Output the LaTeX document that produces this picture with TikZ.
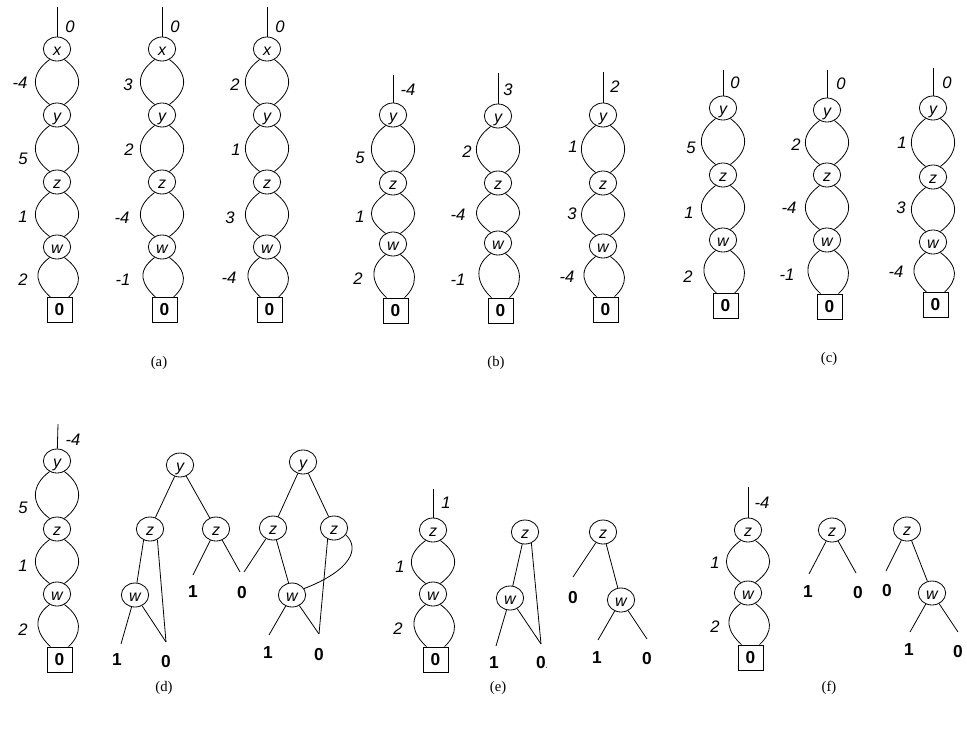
\documentclass[tikz,border=0pt]{standalone}
\usepackage{fontspec}
\setmainfont{Liberation Sans}
\newfontfamily\capfont{Liberation Serif}
\usetikzlibrary{shapes.geometric}
\tikzset{
  en/.style={ellipse, draw, line width=0.6pt, minimum width=20.5pt, minimum height=18pt, inner sep=0pt, text height=1.9ex, text depth=0pt, font=\fontsize{12}{14}\selectfont\itshape},
  tb/.style={draw, line width=0.6pt, minimum size=18.75pt, inner sep=0pt, font=\fontsize{13}{15}\selectfont\bfseries},
  lab/.style={font=\fontsize{12.5}{14}\selectfont\itshape, inner sep=0pt},
  term/.style={font=\fontsize{13}{15}\selectfont\bfseries, inner sep=0pt},
  captxt/.style={font=\capfont\fontsize{11}{13}\selectfont, inner sep=0pt},
  ln/.style={line width=0.6pt}
}
\newcommand\lobes[2]{%
  \draw[ln] (#1.235) .. controls +(-19,14) and +(-19,-14) .. (#2.125);
  \draw[ln] (#1.305) .. controls +(19,14) and +(19,-14) .. (#2.55);}
\newcommand\lobesbox[2]{%
  \draw[ln] (#1.235) .. controls +(-19,14) and +(-13,-12) .. (#2.125);
  \draw[ln] (#1.305) .. controls +(19,14) and +(13,-12) .. (#2.55);}
\newcommand\lab[3]{\node[lab] (#1) at (#2) {#3};}
\newcommand\trm[3]{\node[term] (#1) at (#2) {#3};}
\newcommand\bx[2]{\node[tb] (#1) at (#2) {\raisebox{-3pt}{0}};}
\begin{document}
\begin{tikzpicture}[x=0.75pt,y=-0.75pt]
\useasboundingbox (0,0) rectangle (967,729);

% ===================== (a) =====================
\coordinate (a1t) at (57,7);
\node[en] (a1x) at (57,49) {x};
\node[en] (a1y) at (57,115) {y};
\node[en] (a1z) at (57,182) {z};
\node[en] (a1w) at (57,247) {w};
\bx{a1b}{59.5,310}
\draw[ln] (a1t) -- (a1x);
\lobes{a1x}{a1y}\lobes{a1y}{a1z}\lobes{a1z}{a1w}\lobesbox{a1w}{a1b}
\lab{a1l0}{70,27}{0}\lab{a1l1}{20,83}{-4}\lab{a1l2}{23,159}{5}\lab{a1l3}{23,217}{1}\lab{a1l4}{23,280}{2}

\coordinate (a2t) at (162,7);
\node[en] (a2x) at (162,49) {x};
\node[en] (a2y) at (162,115) {y};
\node[en] (a2z) at (162,182) {z};
\node[en] (a2w) at (162,247) {w};
\bx{a2b}{164.5,310}
\draw[ln] (a2t) -- (a2x);
\lobes{a2x}{a2y}\lobes{a2y}{a2z}\lobes{a2z}{a2w}\lobesbox{a2w}{a2b}
\lab{a2l0}{175,27}{0}\lab{a2l1}{128,85}{3}\lab{a2l2}{129,150}{2}\lab{a2l3}{122,218}{-4}\lab{a2l4}{123,280}{-1}

\coordinate (a3t) at (267,7);
\node[en] (a3x) at (267,49) {x};
\node[en] (a3y) at (267,115) {y};
\node[en] (a3z) at (267,182) {z};
\node[en] (a3w) at (267,247) {w};
\bx{a3b}{269.5,310}
\draw[ln] (a3t) -- (a3x);
\lobes{a3x}{a3y}\lobes{a3y}{a3z}\lobes{a3z}{a3w}\lobesbox{a3w}{a3b}
\lab{a3l0}{280,27}{0}\lab{a3l1}{235,85}{2}\lab{a3l2}{236,150}{1}\lab{a3l3}{230,218}{3}\lab{a3l4}{229,278}{-4}
\node[captxt] (capa) at (159,363) {(a)};

% ===================== (b) =====================
\coordinate (b1t) at (393,75);
\node[en] (b1y) at (393,115) {y};
\node[en] (b1z) at (393,183) {z};
\node[en] (b1w) at (393,244) {w};
\bx{b1b}{395.5,310.5}
\draw[ln] (b1t) -- (b1y);
\lobes{b1y}{b1z}\lobes{b1z}{b1w}\lobesbox{b1w}{b1b}
\lab{b1l0}{408,90}{-4}\lab{b1l1}{360,158}{5}\lab{b1l2}{360,217}{1}\lab{b1l3}{358,279}{2}

\coordinate (b2t) at (498,73);
\node[en] (b2y) at (498,116) {y};
\node[en] (b2z) at (498,183) {z};
\node[en] (b2w) at (498,243) {w};
\bx{b2b}{500.5,310.5}
\draw[ln] (b2t) -- (b2y);
\lobes{b2y}{b2z}\lobes{b2z}{b2w}\lobesbox{b2w}{b2b}
\lab{b2l0}{508,90}{3}\lab{b2l1}{467,152}{2}\lab{b2l2}{458,215}{-4}\lab{b2l3}{458,280}{-1}

\coordinate (b3t) at (603,72);
\node[en] (b3y) at (603,115) {y};
\node[en] (b3z) at (603,183) {z};
\node[en] (b3w) at (603,246) {w};
\bx{b3b}{605.5,309.5}
\draw[ln] (b3t) -- (b3y);
\lobes{b3y}{b3z}\lobes{b3z}{b3w}\lobesbox{b3w}{b3b}
\lab{b3l0}{615,87}{2}\lab{b3l1}{573,147}{1}\lab{b3l2}{572,214}{3}\lab{b3l3}{567,277}{-4}
\node[captxt] (capb) at (496,363) {(b)};

% ===================== (c) =====================
\coordinate (c1t) at (723,70);
\node[en] (c1y) at (723,108) {y};
\node[en] (c1z) at (723,175) {z};
\node[en] (c1w) at (723,240) {w};
\bx{c1b}{725.5,306}
\draw[ln] (c1t) -- (c1y);
\lobes{c1y}{c1z}\lobes{c1z}{c1w}\lobesbox{c1w}{c1b}
\lab{c1l0}{735,83}{0}\lab{c1l1}{691,148}{5}\lab{c1l2}{689,213}{1}\lab{c1l3}{688,277}{2}

\coordinate (c2t) at (827,70);
\node[en] (c2y) at (827,110) {y};
\node[en] (c2z) at (827,175) {z};
\node[en] (c2w) at (827,240) {w};
\bx{c2b}{829.5,306.5}
\draw[ln] (c2t) -- (c2y);
\lobes{c2y}{c2z}\lobes{c2z}{c2w}\lobesbox{c2w}{c2b}
\lab{c2l0}{841,84}{0}\lab{c2l1}{796,145}{2}\lab{c2l2}{789,208}{-4}\lab{c2l3}{787,275}{-1}

\coordinate (c3t) at (933,68);
\node[en] (c3y) at (933,108) {y};
\node[en] (c3z) at (933,177) {z};
\node[en] (c3w) at (933,242) {w};
\bx{c3b}{935.5,305}
\draw[ln] (c3t) -- (c3y);
\lobes{c3y}{c3z}\lobes{c3z}{c3w}\lobesbox{c3w}{c3b}
\lab{c3l0}{947,83}{0}\lab{c3l1}{902,143}{1}\lab{c3l2}{901,208}{3}\lab{c3l3}{896,272}{-4}
\node[captxt] (capc) at (829,359) {(c)};

% ===================== (d) =====================
\coordinate (dt) at (58,424);
\node[en] (dy) at (57,461) {y};
\node[en] (dz) at (57,529) {z};
\node[en] (dw) at (57,594) {w};
\bx{db}{59.5,659.5}
\draw[ln] (dt) -- (dy);
\lobes{dy}{dz}\lobes{dz}{dw}\lobesbox{dw}{db}
\lab{dl0}{73,440}{-4}\lab{dl1}{23,508}{5}\lab{dl2}{23,566}{1}\lab{dl3}{23,630}{2}
% tree d1
\node[en] (d1y) at (180,465) {y};
\node[en] (d1za) at (150,529) {z};
\node[en] (d1zb) at (216,529) {z};
\node[en] (d1w) at (135,595) {w};
\coordinate (d1e1) at (121,644);
\coordinate (d1e2) at (166,642);
\coordinate (d1e3) at (193,575);
\coordinate (d1e4) at (240,572);
\draw[ln] (d1y) -- (d1za);
\draw[ln] (d1y) -- (d1zb);
\draw[ln] (d1za.240) -- (d1w);
\draw[ln] (d1za.305) -- (d1e2);
\draw[ln] (d1w) -- (d1e1);
\draw[ln] (d1w) -- (d1e2);
\draw[ln] (d1zb) -- (d1e3);
\draw[ln] (d1zb) -- (d1e4);
\trm{d1t1}{117,660}{1}\trm{d1t2}{166,662}{0}\trm{d1t3}{193,592}{1}\trm{d1t4}{242,593}{0}
% tree d2
\node[en] (d2y) at (303,462) {y};
\node[en] (d2za) at (273,528) {z};
\node[en] (d2zb) at (334,528) {z};
\node[en] (d2w) at (292,595) {w};
\coordinate (d2e1) at (244,572);
\coordinate (d2e2) at (269,635);
\coordinate (d2e3) at (319,634);
\draw[ln] (d2y) -- (d2za);
\draw[ln] (d2y) -- (d2zb);
\draw[ln] (d2za) -- (d2e1);
\draw[ln] (d2za) -- (d2w);
\draw[ln] (d2zb.240) -- (d2e3);
\draw[ln] (d2zb.330) .. controls (360,548) and (352,570) .. (d2w.28);
\draw[ln] (d2w) -- (d2e2);
\draw[ln] (d2w) -- (d2e3);
\trm{d2t1}{268,653}{1}\trm{d2t2}{319,655}{0}
\node[captxt] (capd) at (164,688) {(d)};

% ===================== (e) =====================
\coordinate (et) at (433,489);
\node[en] (ez) at (433,530) {z};
\node[en] (ew) at (433,594) {w};
\bx{eb}{435.5,659.5}
\draw[ln] (et) -- (ez);
\lobes{ez}{ew}\lobesbox{ew}{eb}
\lab{el0}{446,503}{1}\lab{el1}{400,567}{1}\lab{el2}{398,629}{2}
% tree e1
\node[en] (e1z) at (525,532) {z};
\node[en] (e1w) at (510,598) {w};
\coordinate (e1e1) at (496,646);
\coordinate (e1e2) at (541,644);
\draw[ln] (e1z) -- (e1w);
\draw[ln] (e1z.300) -- (e1e2);
\draw[ln] (e1w) -- (e1e1);
\draw[ln] (e1w) -- (e1e2);
\trm{e1t1}{494,663}{1}\node[term] (e1t2) at (542,663) {0{\fontsize{6}{6}\selectfont\mdseries.}};
% tree e2
\node[en] (e2z) at (603,532) {z};
\node[en] (e2w) at (621,600) {w};
\coordinate (e2e1) at (573,577);
\coordinate (e2e2) at (598,640);
\coordinate (e2e3) at (647,639);
\draw[ln] (e2z) -- (e2e1);
\draw[ln] (e2z) -- (e2w);
\draw[ln] (e2w) -- (e2e2);
\draw[ln] (e2w) -- (e2e3);
\trm{e2t0}{573,598}{0}\trm{e2t1}{597,658}{1}\trm{e2t2}{647,659}{0}
\node[captxt] (cape) at (498,688) {(e)};

% ===================== (f) =====================
\coordinate (ft) at (748,487);
\node[en] (fz) at (748,530) {z};
\node[en] (fw) at (748,593) {w};
\bx{fb}{750.5,657.5}
\draw[ln] (ft) -- (fz);
\lobes{fz}{fw}\lobesbox{fw}{fb}
\lab{fl0}{762,503}{-4}\lab{fl1}{715,563}{1}\lab{fl2}{715,627}{2}
% tree f1
\node[en] (f1z) at (832,530) {z};
\coordinate (f1e1) at (809,574);
\coordinate (f1e2) at (856,573);
\draw[ln] (f1z) -- (f1e1);
\draw[ln] (f1z) -- (f1e2);
\trm{f1t1}{808,592}{1}\trm{f1t2}{858,593}{0}
% tree f2
\node[en] (f2z) at (907,529) {z};
\node[en] (f2w) at (932,593) {w};
\coordinate (f2e1) at (886,571);
\coordinate (f2e2) at (910,632);
\coordinate (f2e3) at (958,632);
\draw[ln] (f2z) -- (f2e1);
\draw[ln] (f2z) -- (f2w);
\draw[ln] (f2w) -- (f2e2);
\draw[ln] (f2w) -- (f2e3);
\trm{f2t0}{887,591}{0}\trm{f2t1}{909,650}{1}\trm{f2t2}{958,652}{0}
\node[captxt] (capf) at (829,688) {(f)};
\end{tikzpicture}
\end{document}
